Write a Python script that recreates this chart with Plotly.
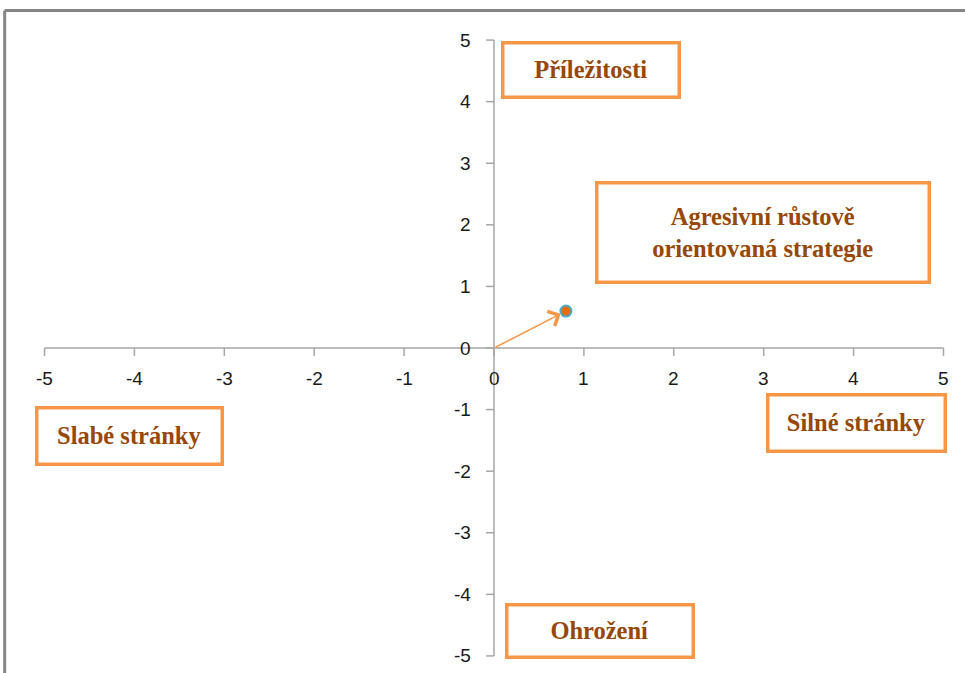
import plotly.graph_objects as go

# Axis ticks and their labels
x_ticks = [-5, -4, -3, -2, -1, 0, 1, 2, 3, 4, 5]
y_ticks = [-5, -4, -3, -2, -1, 0, 1, 2, 3, 4, 5]

# Resulting strategic position (strengths-weaknesses, opportunities-threats)
point_x = [0.8]
point_y = [0.6]

# Quadrant captions: text, centre x, centre y, box width, box height (px)
captions = [
    ("Příležitosti", 1.08, 4.51, 176, 54),
    ("Agresivní růstově<br>orientovaná strategie", 2.99, 1.875, 332, 99),
    ("Silné stránky", 4.03, -1.22, 177, 56),
    ("Slabé stránky", -4.06, -1.43, 185, 56),
    ("Ohrožení", 1.18, -4.59, 186, 52),
]

AXIS_COLOR = "#A6A6A6"
BOX_COLOR = "#F79646"
TEXT_COLOR = "#974706"
TICK_FONT = dict(family="Liberation Sans, Arial, sans-serif", size=19, color="#1a1a1a")

fig = go.Figure()

# Arrow from the origin to the position
fig.add_annotation(
    x=point_x[0], y=point_y[0], ax=0, ay=0,
    xref="x", yref="y", axref="x", ayref="y",
    showarrow=True, arrowhead=4, arrowsize=2.1, arrowwidth=1.5,
    arrowcolor=BOX_COLOR, standoff=6, text="",
)

fig.add_trace(go.Scatter(
    x=point_x, y=point_y, mode="markers",
    marker=dict(size=11, color="#E46C0A", line=dict(color="#4BACC6", width=2)),
    showlegend=False, hoverinfo="skip",
))

shapes = []
# Axis lines crossing at the origin
shapes.append(dict(type="line", xref="x", yref="y", x0=x_ticks[0], x1=x_ticks[-1], y0=0, y1=0,
                   line=dict(color=AXIS_COLOR, width=1.5), layer="below"))
shapes.append(dict(type="line", xref="x", yref="y", x0=0, x1=0, y0=y_ticks[0], y1=y_ticks[-1],
                   line=dict(color=AXIS_COLOR, width=1.5), layer="below"))
# Tick marks
for t in x_ticks:
    shapes.append(dict(type="line", xref="x", yref="y", x0=t, x1=t, ysizemode="pixel", yanchor=0,
                       y0=0, y1=-8, line=dict(color=AXIS_COLOR, width=1.5), layer="below"))
for t in y_ticks:
    shapes.append(dict(type="line", xref="x", yref="y", y0=t, y1=t, xsizemode="pixel", xanchor=0,
                       x0=0, x1=-8, line=dict(color=AXIS_COLOR, width=1.5), layer="below"))
# Chart frame
shapes.append(dict(type="line", xref="paper", yref="paper", x0=-0.0389, x1=1.1, y0=1.0425, y1=1.0425,
                   line=dict(color="#858585", width=3)))
shapes.append(dict(type="line", xref="paper", yref="paper", x0=-0.0389, x1=-0.0389, y0=-0.1, y1=1.0425,
                   line=dict(color="#858585", width=3)))

# Tick labels
for t in x_ticks:
    fig.add_annotation(x=t, y=0, xref="x", yref="y", text=str(t), showarrow=False,
                       yshift=-30, font=TICK_FONT, xanchor="center", yanchor="middle")
for t in y_ticks:
    fig.add_annotation(x=0, y=t, xref="x", yref="y", text=str(t), showarrow=False,
                       xshift=-21, font=TICK_FONT, xanchor="right", yanchor="middle")

# Quadrant caption boxes
BW = 3.5
for text, cx, cy, w, h in captions:
    fig.add_annotation(
        x=cx, y=cy, xref="x", yref="y", text=f"<b>{text}</b>", showarrow=False,
        width=w - BW - 2, height=h - BW - 2, borderpad=1, align="center", valign="middle",
        bordercolor=BOX_COLOR, borderwidth=BW, bgcolor="white",
        font=dict(family="Liberation Serif, Times New Roman, serif", size=24.5, color=TEXT_COLOR),
    )

pad = 0.05
fig.update_layout(
    width=965, height=673,
    margin=dict(l=44 - 90 * pad, r=21 - 90 * pad, t=40 - 61.6 * pad, b=17 - 61.6 * pad),
    paper_bgcolor="white", plot_bgcolor="white",
    shapes=shapes,
    xaxis=dict(range=[-5 - pad, 5 + pad], visible=False, fixedrange=True),
    yaxis=dict(range=[-5 - pad, 5 + pad], visible=False, fixedrange=True),
    showlegend=False,
)

fig.write_html("out.html")
